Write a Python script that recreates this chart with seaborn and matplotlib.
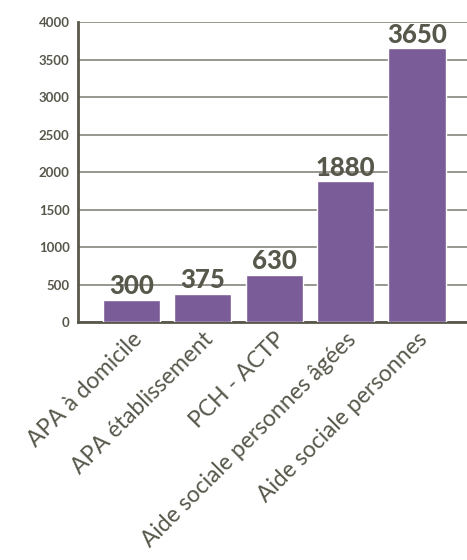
import matplotlib
matplotlib.use("Agg")
import matplotlib.pyplot as plt
import seaborn as sns
import pandas as pd

categories = [
    "APA à domicile",
    "APA établissement",
    "PCH - ACTP",
    "Aide sociale personnes âgées",
    "Aide sociale personnes",
]
values = [300, 375, 630, 1880, 3650]
y_ticks = [0, 500, 1000, 1500, 2000, 2500, 3000, 3500, 4000]

BAR = "#7a5c98"
TEXT = "#58574b"
GRID = "#8f8e86"
SPINE = "#5a584c"

sns.set_theme(style="white")
plt.rcParams["font.family"] = ["Lato", "DejaVu Sans"]

df = pd.DataFrame({"cat": categories, "val": values})

fig = plt.figure(figsize=(4.67, 5.6), dpi=100)
ax = fig.add_axes([0.167, 0.425, 0.833, 0.5357])

sns.barplot(data=df, x="cat", y="val", color=BAR, saturation=1, width=0.8, ax=ax, zorder=3)

ax.set_xlim(-0.75, 4.7)
ax.set_ylim(0, 4000)
ax.set_yticks(y_ticks)
ax.set_yticklabels([str(t) for t in y_ticks], fontsize=9.5, fontweight="bold", color=TEXT)
ax.yaxis.grid(True, color=GRID, linewidth=1.3, zorder=0)
ax.set_axisbelow(True)

ax.set_xlabel("")
ax.set_ylabel("")
ax.set_xticks(range(len(categories)))
ax.set_xticklabels(categories, rotation=45, ha="right", rotation_mode="anchor",
                   fontsize=16.5, color=TEXT)
ax.tick_params(axis="x", length=0, pad=5)
ax.tick_params(axis="y", length=0, pad=6)

for side in ["top", "right"]:
    ax.spines[side].set_visible(False)
for side in ["left", "bottom"]:
    ax.spines[side].set_color(SPINE)
    ax.spines[side].set_linewidth(2)

for container in ax.containers:
    ax.bar_label(container, labels=[str(v) for v in values], padding=1,
                 fontsize=18.5, fontweight="black", color=TEXT)

fig.savefig("out.png", dpi=100)
